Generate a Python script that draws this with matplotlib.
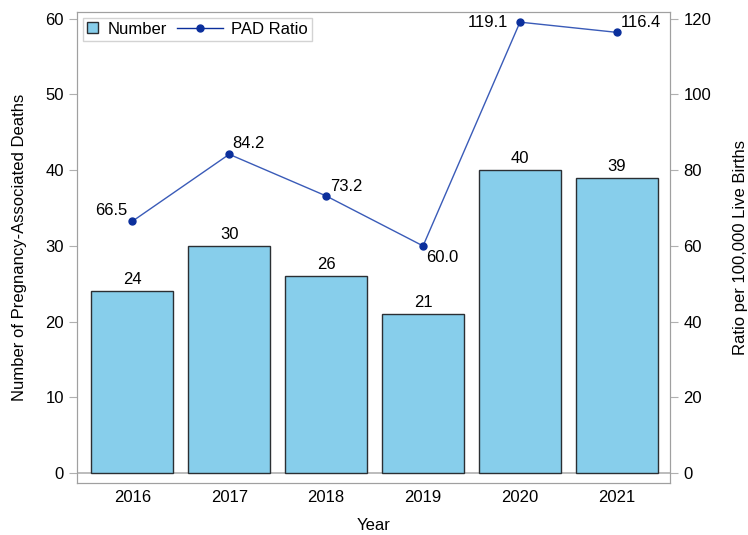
import matplotlib
matplotlib.use('Agg')
import matplotlib.pyplot as plt
from matplotlib.lines import Line2D
from matplotlib.patches import Patch, Rectangle
from matplotlib.legend_handler import HandlerBase

plt.rcParams['font.family'] = ['Liberation Sans', 'DejaVu Sans']

years = ['2016', '2017', '2018', '2019', '2020', '2021']
deaths = [24, 30, 26, 21, 40, 39]
ratio = [66.5, 84.2, 73.2, 60.0, 119.1, 116.4]
# label offsets in pixels (dx, dy, ha, va)
lab_off = [(-5, 6, 'right', 'baseline'), (3, 6, 'left', 'baseline'), (4, 5, 'left', 'baseline'),
           (3, -4, 'left', 'top'), (-12, -5, 'right', 'baseline'), (4, 5, 'left', 'baseline')]

LINE_C = '#3a5bb8'
MARK_C = '#0b2f9c'
BAR_C = '#87CEEB'
EDGE_C = '#2b2f33'


class WideLine(HandlerBase):
    # line handle that reaches back into the column gap
    def create_artists(self, legend, orig_handle, xdescent, ydescent, width, height, fontsize, trans):
        ext = 2.0 * fontsize
        y = height / 2 - ydescent
        x0 = -xdescent - ext
        x1 = -xdescent + width
        ln = Line2D([x0, x1], [y, y], color=MARK_C, lw=1)
        mk = Line2D([(x0 + x1) / 2], [y], marker='o', ms=5, color=MARK_C, ls='none')
        ln.set_transform(trans)
        mk.set_transform(trans)
        return [ln, mk]


class SmallBox(HandlerBase):
    def create_artists(self, legend, orig_handle, xdescent, ydescent, width, height, fontsize, trans):
        h = height * 0.95
        r = Rectangle((-xdescent, -ydescent + (height - h) / 2), h, h,
                      facecolor=BAR_C, edgecolor=EDGE_C, lw=1)
        r.set_transform(trans)
        return [r]


fig = plt.figure(figsize=(7.48, 5.35), dpi=100)
ax = fig.add_axes([0.103, 0.097, 0.793, 0.881])
x = list(range(len(years)))
ax.bar(x, deaths, width=0.85, color=BAR_C, edgecolor=EDGE_C, linewidth=1, zorder=2)
ax.axhline(0, color='#b0b0b0', lw=1.2, zorder=1)
for xi, v in zip(x, deaths):
    ax.annotate(str(v), (xi, v), xytext=(0, 3), textcoords='offset points',
                ha='center', va='bottom', fontsize=12)
ax.set_xlim(-0.57, 5.55)
ax.set_ylim(-1.32, 60.92)
ax.set_yticks(range(0, 61, 10))
ax.set_xticks(x)
ax.set_xticklabels(years)
ax.set_xlabel('Year', fontsize=12, labelpad=9)
ax.set_ylabel('Number of Pregnancy-Associated Deaths', fontsize=12, labelpad=13)
ax.tick_params(axis='x', length=0, labelsize=12, pad=5)
ax.tick_params(axis='y', length=6, color='#b0b0b0', labelsize=12)

ax2 = ax.twinx()
ax2.plot(x, ratio, color=LINE_C, lw=1, marker='o', ms=5,
         markerfacecolor=MARK_C, markeredgecolor=MARK_C, zorder=3)
for xi, v, (dx, dy, ha, va) in zip(x, ratio, lab_off):
    ax2.annotate(f'{v:.1f}', (xi, v), xytext=(dx * 0.72, dy * 0.72), textcoords='offset points',
                 ha=ha, va=va, fontsize=12)
ax2.set_ylim(-2.64, 121.84)
ax2.set_yticks(range(0, 121, 20))
ax2.set_ylabel('Ratio per 100,000 Live Births', fontsize=12, labelpad=16)
ax2.tick_params(axis='y', length=6, color='#b0b0b0', labelsize=12)

for a in (ax, ax2):
    for s in a.spines.values():
        s.set_color('#a0a0a0')

h_bar = Patch(label='Number')
h_line = Line2D([0], [0], label='PAD Ratio')
leg = ax2.legend(handles=[h_bar, h_line], loc='upper left', ncol=2, fontsize=12, frameon=True,
                 fancybox=False, edgecolor='#c8c8c8', borderaxespad=0.35,
                 handlelength=0.75, columnspacing=2.6, handletextpad=0.5,
                 borderpad=0.25, handler_map={Patch: SmallBox(), Line2D: WideLine()})
leg.get_frame().set_linewidth(1)

plt.savefig('out.png', dpi=100)
